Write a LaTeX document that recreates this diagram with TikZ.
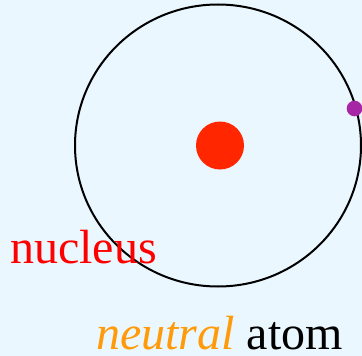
\documentclass[tikz,border=0pt]{standalone}
\usepackage{fontspec}
\setmainfont{Liberation Serif}
\definecolor{bg}{RGB}{234,247,254}
\definecolor{nuc}{RGB}{255,38,0}
\definecolor{elec}{RGB}{166,38,166}
\definecolor{orng}{RGB}{255,155,10}
\begin{document}
\begin{tikzpicture}[x=1pt,y=-1pt,
  lbl/.style={inner sep=0pt,anchor=base west,font=\fontsize{48}{50}\selectfont}]
\fill[bg] (0,0) rectangle (362,356);
\useasboundingbox (0,0) rectangle (362,356);
\draw[line width=2pt] (218,145.5) ellipse [x radius=143, y radius=141];
\fill[nuc] (220,145.5) circle [radius=24];
\fill[elec] (354.5,108.5) circle [radius=7.8];
\node[lbl,text=red] (nucleus) at (10,263) {nucleus};
\node[lbl] (neutral) at (96,349) {\textcolor{orng}{\itshape neutral} atom};
\end{tikzpicture}
\end{document}
